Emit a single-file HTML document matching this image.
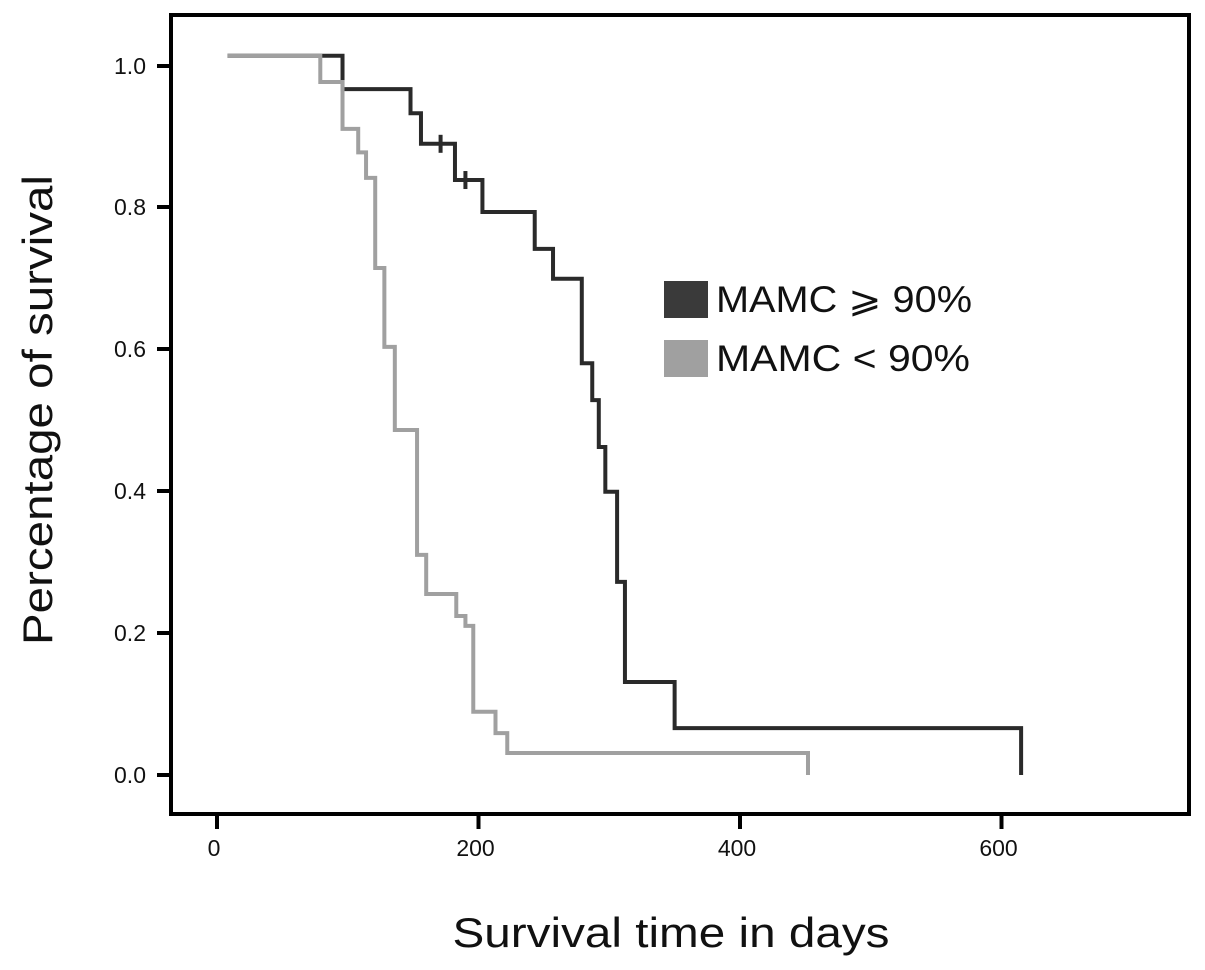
<!DOCTYPE html>
<html><head><meta charset="utf-8"><style>
html,body{margin:0;padding:0;background:#fff;}
svg{display:block;font-family:"Liberation Sans","DejaVu Sans",sans-serif;}
</style></head><body>
<svg id="chart" width="1205" height="970" viewBox="0 0 1205 970">
<rect x="171" y="15" width="1018" height="799" fill="none" stroke="#000" stroke-width="4"/>
<g id="axes"></g>
<g id="series"></g>
<text x="52" y="410" font-size="42" fill="#111" text-anchor="middle" textLength="470" lengthAdjust="spacingAndGlyphs" transform="rotate(-90 52 410)">Percentage of survival</text>
<text x="671" y="947" font-size="42" fill="#111" text-anchor="middle" textLength="437" lengthAdjust="spacingAndGlyphs">Survival time in days</text>
<g>
<rect x="664" y="281" width="44" height="37" fill="#3a3a3a"/>
<text x="716" y="312" font-size="37" fill="#111" textLength="256" lengthAdjust="spacingAndGlyphs">MAMC ⩾ 90%</text>
<rect x="664" y="340" width="44" height="37" fill="#a0a0a0"/>
<text x="716" y="371" font-size="37" fill="#111" textLength="254" lengthAdjust="spacingAndGlyphs">MAMC &lt; 90%</text>
</g>
</svg>
<script>
const xTicks=[0,200,400,600];
const yTicks=[0.0,0.2,0.4,0.6,0.8,1.0];
const yTickLabels=["0.0","0.2","0.4","0.6","0.8","1.0"];
const highTimes=[8,96,148,156,182,203,243,257,279,287,292,297,306,312,350,615];
const highSurv=[1.013,0.966,0.932,0.889,0.838,0.793,0.741,0.699,0.580,0.528,0.462,0.399,0.272,0.131,0.066,0];
const highCensorTimes=[171,190];
const highCensorSurv=[0.889,0.838];
const lowTimes=[8,79,96,108,114,121,128,136,153,160,183,190,196,213,222,452];
const lowSurv=[1.013,0.976,0.910,0.877,0.841,0.714,0.603,0.486,0.310,0.255,0.224,0.210,0.089,0.059,0.031,0];

const NS="http://www.w3.org/2000/svg";
const X=t=>217+t*1.3075;
const Y=s=>775-s*710;
const axes=document.getElementById('axes');
const series=document.getElementById('series');
function mk(tag,attrs,parent){const e=document.createElementNS(NS,tag);for(const k in attrs)e.setAttribute(k,attrs[k]);parent.appendChild(e);return e;}
xTicks.forEach((v,i)=>{
  const l=mk('line',{x1:X(v),x2:X(v),y1:814,y2:829,stroke:'#000','stroke-width':4},axes);
  
  
  const t=mk('text',{x:X(v)-3,y:856,'font-size':23,'text-anchor':'middle',fill:'#111'},axes);
  t.textContent=String(v);
  
  
});
yTicks.forEach((v,i)=>{
  const yy=Y(v)+(v===1?1:0);
  const l=mk('line',{x1:157,x2:171,y1:yy,y2:yy,stroke:'#000','stroke-width':4},axes);
  
  
  const t=mk('text',{x:146,y:yy+8,'font-size':23,'text-anchor':'end',fill:'#111'},axes);
  t.textContent=yTickLabels[i];
  
  
});
function stepPath(ts,ss){
  let d='M'+X(ts[0])+' '+Y(ss[0]);
  for(let i=1;i<ts.length;i++){d+=' H'+X(ts[i])+' V'+Y(ss[i]);}
  return d;
}
const ph=mk('path',{d:stepPath(highTimes,highSurv),fill:'none',stroke:'#2a2a2a','stroke-width':4},series);


highCensorTimes.forEach((t,i)=>{
  const c=mk('line',{x1:X(t),x2:X(t),y1:Y(highCensorSurv[i])-9,y2:Y(highCensorSurv[i])+9,stroke:'#2a2a2a','stroke-width':4},series);
  
  
});
const pl=mk('path',{d:stepPath(lowTimes,lowSurv),fill:'none',stroke:'#a0a0a0','stroke-width':4},series);


</script>
</body></html>
